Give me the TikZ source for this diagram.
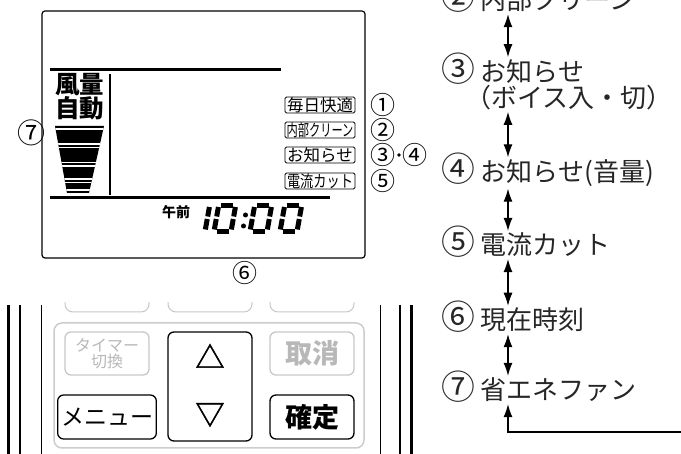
\documentclass[tikz,border=0pt]{standalone}
\usepackage{fontspec}
\usepackage{graphicx}
\setmainfont{Noto Sans CJK JP}
\newfontfamily\heavysym[FakeBold=1.8]{Noto Sans CJK JP}
\usetikzlibrary{arrows.meta,positioning}

\newcommand\cnum[1]{\smash{\scalebox{1.3}{#1}}}

\tikzset{
  lcdlabel/.style={draw, line width=0.9pt, rounded corners=1.5pt, minimum width=70pt, minimum height=16pt, inner sep=0pt, font=\fontsize{16.5}{15}\selectfont},
  circnum/.style={inner sep=0pt, font=\fontsize{25}{25}\selectfont},
  menuitem/.style={anchor=west, inner sep=2pt, font=\fontsize{26}{26}\selectfont, text=black!85},
  cyc/.style={{Latex[length=13pt,width=9pt]}-{Latex[length=13pt,width=9pt]}, line width=1.1pt},
  seg/.style={line width=5pt},
  btn/.style={draw, rounded corners=6pt, line width=1.3pt, minimum width=84pt},
  offbtn/.style={btn, draw=black!22, text=black!28},
}

\begin{document}
\begin{tikzpicture}[x=1pt,y=-1pt]
\useasboundingbox (0,0) rectangle (681,454);
\clip (0,0) rectangle (681,454);

% LCD panel
\draw[line width=1.2pt, rounded corners=3pt] (42,11) rectangle (365,258);
\draw[line width=3pt] (50,70) -- (281,70);
\draw[line width=3pt] (50,198) -- (330,198);
\draw[line width=2.2pt] (110,74) -- (110,195);
\node[inner sep=0pt, font=\fontsize{24.5}{22}\selectfont\bfseries] (fanlbl) at (79.5,85) {風量};
\node[inner sep=0pt, font=\fontsize{24.5}{22}\selectfont\bfseries] (autolbl) at (79.5,108) {自動};
\begin{scope}
  \clip (55,126) -- (104,126) -- (89,193) -- (67,193) -- cycle;
  \fill (40,120) rectangle (120,200);
  \foreach \g in {129,144,147.5,162.5,166,179,182.5,190} \draw[white, line width=1.5pt] (40,\g) -- (120,\g);
\end{scope}
\node[lcdlabel] (daily) at (320,105) {毎日快適};
\node[lcdlabel] (clean) at (320,130) {\scalebox{0.68}[1]{内部クリーン}};
\node[lcdlabel] (notice) at (320,155) {お知らせ};
\node[lcdlabel] (cut) at (320,181) {\scalebox{0.8}[1]{電流カット}};
\node[circnum] (c1) at (383,105) {①};
\node[circnum] (c2) at (383,130) {②};
\node[circnum] (c3) at (383,155) {③};
\node[circnum] (c4) at (415,155) {④};
\fill (399,155) circle (1.8);
\node[circnum] (c5) at (383,181) {⑤};
\node[circnum, font=\fontsize{28}{28}\selectfont] (c7) at (31,133) {⑦};
\node[circnum] (c6) at (245,273) {⑥};

% clock
\node[inner sep=0pt, font=\fontsize{14}{14}\selectfont\bfseries] (ampm) at (176,212) {午前};
\begin{scope}[shift={(205,231.5)}, xslant=0.18]
  \draw[seg] (0,-12.5) -- (0,-2);
  \draw[seg] (0,-24.5) -- (0,-15);
\end{scope}
\foreach \cx in {214,250,280} {
  \begin{scope}[shift={(\cx,231.5)}, xslant=0.18]
    \foreach \ax/\ay/\bx/\by in {2.5/-26/14.5/-26, 17/-24.5/17/-15, 17/-12.5/17/-2, 2.5/0/14.5/0, 0/-12.5/0/-2, 0/-24.5/0/-15}
      \draw[seg] (\ax,\ay) -- (\bx,\by);
  \end{scope}
}
\fill (245.5,215) circle (2.5);
\fill (243.5,226) circle (2.5);

% remote
\draw[line width=3pt] (8,305) -- (8,454);
\draw[line width=2pt] (20,305) -- (20,454);
\draw[line width=0.8pt] (41,305) -- (41,454);
\draw[line width=0.8pt] (380,305) -- (380,454);
\draw[line width=2pt] (400,305) -- (400,454);
\draw[line width=3pt] (411,305) -- (411,454);
\begin{scope}
  \clip (42,303) rectangle (379,330);
  \foreach \bx in {65,168,270} \draw[black!22, line width=1pt, rounded corners=8pt] (\bx,280) rectangle ++(84,32);
\end{scope}
\draw[black!20, line width=1.5pt, rounded corners=8pt] (54,323) rectangle (364,448);
\node[offbtn, minimum height=43pt, align=center, font=\fontsize{16}{16}\selectfont] (timer) at (107,353.5) {タイマー\\切換};
\node[offbtn, minimum height=43pt, font=\fontsize{27}{27}\selectfont\bfseries] (cancel) at (312,353.5) {取消};
\node[btn, minimum height=109pt] (updown) at (210,386.5) {};
\node[inner sep=0pt, font=\heavysym\fontsize{29}{29}\selectfont] (up) at (210,356) {△};
\node[inner sep=0pt, font=\heavysym\fontsize{29}{29}\selectfont] (down) at (210,415) {▽};
\node[btn, minimum height=44pt, font=\fontsize{23}{23}\selectfont] (menu) at (107,417) {メニュー};
\node[btn, minimum height=44pt, font=\fontsize{27}{27}\selectfont\bfseries] (ok) at (312,417) {確定};

% setting order
\coordinate (ax) at (508,0);
\node[menuitem] (s2) at (439,0) {\cnum{②} 内部クリーン};
\node[menuitem, align=left] (s3) at (439,84.5) {\cnum{③} お知らせ\\\hspace*{24pt}（ボイス入・切）};
\node[menuitem] (s4) at (439,173) {\cnum{④} お知らせ(音量)};
\node[menuitem] (s5) at (439,245) {\cnum{⑤} 電流カット};
\node[menuitem] (s6) at (439,320) {\cnum{⑥} 現在時刻};
\node[menuitem] (s7) at (439,390) {\cnum{⑦} 省エネファン};
\foreach \a/\b in {s2/s3,s3/s4,s4/s5,s5/s6,s6/s7} \draw[cyc] (\a.south -| ax) -- (\b.north -| ax);
\coordinate (back) at (681,432);
\draw[-{Latex[length=13pt,width=9pt]}, line width=1.1pt] (back) -| (s7.south -| ax);
\end{tikzpicture}
\end{document}
